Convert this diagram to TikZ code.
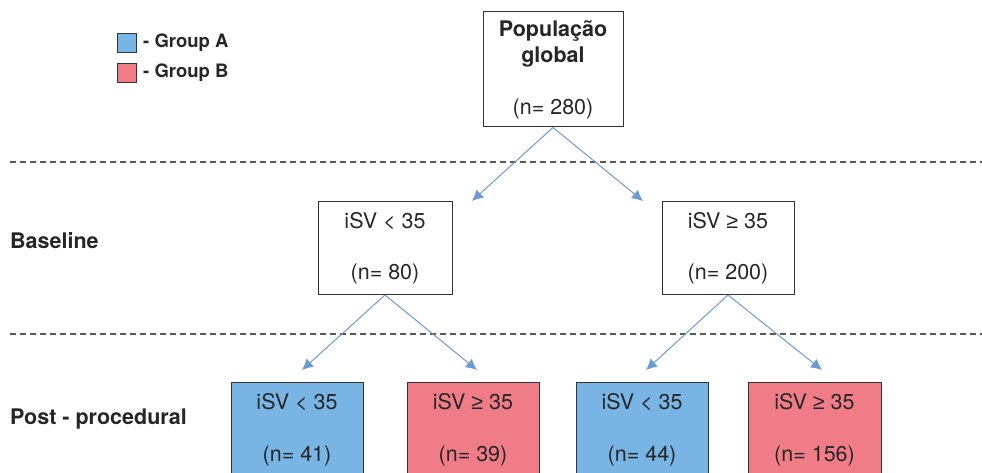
\documentclass[tikz,border=0pt]{standalone}
\usepackage{fontspec}
\setmainfont{TeX Gyre Heros}
\newfontfamily\symfont{Liberation Sans}
\usetikzlibrary{arrows.meta, positioning}
\definecolor{grpA}{HTML}{78B4E4}
\definecolor{grpB}{HTML}{F07C88}
\definecolor{arrowblue}{HTML}{6A9BD6}
\definecolor{boxline}{HTML}{333333}
\tikzstyle{block} = [draw=boxline, line width=1pt, rectangle, align=center, text=black!85, font=\fontsize{21.5}{26}\selectfont]
\tikzstyle{link} = [draw=arrowblue, line width=1pt, -{Latex[length=11pt,width=11pt]}]
\tikzstyle{sep} = [draw=black!65, line width=1.2pt, dash pattern=on 6pt off 4pt]
\tikzstyle{stage} = [anchor=west, inner sep=0pt, text=black!85, font=\bfseries\fontsize{21.5}{26}\selectfont]
\tikzstyle{key} = [draw=boxline, line width=1pt, minimum size=19pt, inner sep=0pt]
\tikzstyle{keytext} = [inner sep=0pt, text=black!85, font=\bfseries\fontsize{18.5}{22}\selectfont]
\newcommand{\geqs}{{\symfont ≥}}

\begin{document}
\begin{tikzpicture}[x=1pt,y=-1pt]
  \clip (0,0) rectangle (982,473);
  % legend
  \node[key, fill=grpA] (keyA) at (127,43) {};
  \node[key, fill=grpB] (keyB) at (127,73) {};
  \node[keytext, right=6pt of keyA] (txtA) {- Group A};
  \node[keytext, right=6pt of keyB] (txtB) {- Group B};
  % stages
  \draw[sep] (10,162) -- (982,162);
  \draw[sep] (10,334) -- (982,334);
  \node[stage] (base) at (10,241) {Baseline};
  \node[stage] (post) at (10,419) {Post - procedural};
  % tree
  \node[block, minimum width=140pt, minimum height=115pt] (pop) at (553,69.5) {\textbf{População}\\\textbf{global}\\[26pt](n= 280)};
  \node[block, minimum width=134pt, minimum height=93pt] (lowsv) at (385,248) {iSV < 35\\[25pt](n= 80)};
  \node[block, minimum width=132pt, minimum height=93pt] (highsv) at (728,248) {iSV \geqs{} 35\\[25pt](n= 200)};
  \node[block, fill=grpA, minimum width=132pt, minimum height=96pt] (lowA) at (297,430) {iSV < 35\\[26pt](n= 41)};
  \node[block, fill=grpB, minimum width=132pt, minimum height=96pt] (lowB) at (473,430) {iSV \geqs{} 35\\[26pt](n= 39)};
  \node[block, fill=grpA, minimum width=132pt, minimum height=96pt] (highA) at (642,430) {iSV < 35\\[26pt](n= 44)};
  \node[block, fill=grpB, minimum width=133pt, minimum height=96pt] (highB) at (814.5,430) {iSV \geqs{} 35\\[26pt](n= 156)};
  % arrow tips
  \coordinate (t1) at (472,201);
  \coordinate (t2) at (643,201);
  \coordinate (t3) at (302,370);
  \coordinate (t4) at (477,370);
  \coordinate (t5) at (646,370);
  \coordinate (t6) at (822,370);
  \draw[link] (pop.south) -- (t1);
  \draw[link] (pop.south) -- (t2);
  \draw[link] (lowsv.south) -- (t3);
  \draw[link] (lowsv.south) -- (t4);
  \draw[link] (highsv.south) -- (t5);
  \draw[link] (highsv.south) -- (t6);
\end{tikzpicture}
\end{document}
